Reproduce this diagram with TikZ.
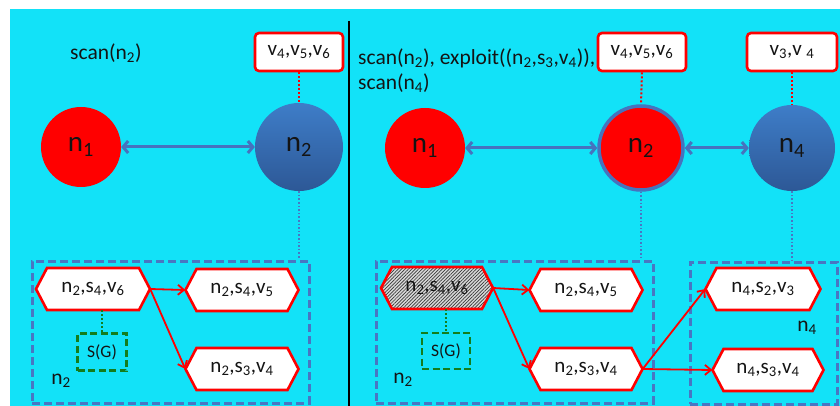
\documentclass[tikz,border=0pt]{standalone}
\usepackage{fontspec}
\setmainfont{Carlito}
\usetikzlibrary{arrows.meta,patterns.meta}
\definecolor{bgcyan}{RGB}{18,226,248}
\definecolor{linkblue}{RGB}{70,115,190}
\definecolor{boxblue}{RGB}{72,118,195}
\definecolor{sgreen}{RGB}{20,125,30}
\definecolor{ballt}{RGB}{62,125,200}
\definecolor{ballb}{RGB}{45,88,150}
\definecolor{txt}{RGB}{20,20,20}
\newcommand\sbs[1]{\textsubscript{#1}}
\newcommand\hexnode[6]{%
  \path[hexedge,#6] ({#2-#4/2},#3) -- ({#2-#4/2+11},{#3-21}) -- ({#2+#4/2-11},{#3-21}) -- ({#2+#4/2},#3) -- ({#2+#4/2-11},{#3+21}) -- ({#2-#4/2+11},{#3+21}) -- cycle;
  \node[hextext,minimum width=#4pt] (#1) at (#2,#3) {#5};}
\tikzset{
  hexedge/.style={draw=red,line width=2.6pt,line join=miter},
  hexwhite/.style={fill=white},
  hexhatch/.style={preaction={fill=gray!30},pattern={Lines[angle=45,distance=2.4pt,line width=0.7pt]},pattern color=gray!45!black},
  hextext/.style={minimum height=42pt,inner sep=0pt,text=txt,font=\fontsize{21}{23}\selectfont},
  vbox/.style={draw=red,line width=2.6pt,rounded corners=4pt,fill=white,minimum height=38pt,inner sep=0pt,text=txt,font=\fontsize{21}{23}\selectfont},
  redball/.style={circle,fill=red,inner sep=0pt,text=txt,font=\fontsize{29}{31}\selectfont},
  blueball/.style={circle,top color=ballt,bottom color=ballb,inner sep=0pt,text=txt,font=\fontsize{29}{31}\selectfont},
  grp/.style={draw=boxblue,line width=3pt,dash pattern=on 8pt off 4pt,inner sep=0pt},
  sgbox/.style={draw=sgreen,line width=2.6pt,dash pattern=on 7pt off 3.5pt,inner sep=0pt,text=txt,font=\fontsize{17.5}{19}\selectfont},
  lbl/.style={inner sep=0pt,text=txt,font=\fontsize{21.5}{23}\selectfont},
  link/.style={linkblue,line width=3pt,{Straight Barb[length=5pt,width=12pt]}-{Straight Barb[length=5pt,width=12pt]}},
  redarr/.style={red,line width=1.8pt,-{Straight Barb[length=6pt,width=10pt]}},
  reddot/.style={red,line width=2pt,dotted},
  bluedot/.style={boxblue,line width=1.6pt,dotted},
  greendot/.style={sgreen,line width=2pt,dotted},
}
\begin{document}
\begin{tikzpicture}[x=1pt,y=-1pt]
\useasboundingbox (0,0) rectangle (840,406);
\fill[white] (0,0) rectangle (840,406);
\fill[bgcyan] (10,9) rectangle (840,406);
\coordinate (sepT) at (349,21);
\coordinate (sepB) at (349,406);
\draw[black,line width=2pt] (sepT) -- (sepB);

% ---------- left panel ----------
\node[lbl,anchor=west] (t1) at (70,53) {scan(n\sbs{2})};
\node[vbox,minimum width=88pt] (vL) at (299,52) {v\sbs{4},v\sbs{5},v\sbs{6}};
\node[redball,minimum size=80pt] (n1L) at (81,147) {n\sbs{1}};
\node[blueball,minimum size=88pt] (n2L) at (299,147) {n\sbs{2}};
\draw[link] (n1L) -- (n2L);
\draw[reddot] (vL.south) -- (n2L.north);
\node[grp,minimum width=277pt,minimum height=142pt] (g1L) at (170.5,332) {};
\draw[bluedot] (n2L.south) -- (n2L.south |- g1L.north);
\hexnode{aL}{93}{289}{114}{n\sbs{2},s\sbs{4},v\sbs{6}}{hexwhite}
\hexnode{bL}{242}{290}{113}{n\sbs{2},s\sbs{4},v\sbs{5}}{hexwhite}
\hexnode{cL}{242}{369}{113}{n\sbs{2},s\sbs{3},v\sbs{4}}{hexwhite}
\node[sgbox,minimum width=49pt,minimum height=37pt] (sgL) at (102,352) {S(G)};
\draw[greendot] (aL.south -| sgL.north) -- (sgL.north);
\node[lbl] (lnL) at (61,381) {n\sbs{2}};
\draw[redarr] (aL.east) -- (bL.west);
\draw[redarr] (aL.east) -- (cL.west);

% ---------- right panel ----------
\node[lbl,anchor=west] (t2) at (358,58) {scan(n\sbs{2}), exploit((n\sbs{2},s\sbs{3},v\sbs{4})),};
\node[lbl,anchor=west] (t3) at (358,83) {scan(n\sbs{4})};
\node[vbox,minimum width=88pt] (vR) at (642,52) {v\sbs{4},v\sbs{5},v\sbs{6}};
\node[vbox,minimum width=90pt] (vR2) at (792,52) {v\sbs{3},v \sbs{4}};
\node[redball,minimum size=80pt] (n1R) at (425,148) {n\sbs{1}};
\node[redball,draw=linkblue,line width=3.5pt,minimum size=84pt] (n2R) at (641,148) {n\sbs{2}};
\node[blueball,minimum size=86pt] (n4R) at (792,148) {n\sbs{4}};
\draw[link] (n1R) -- (n2R);
\draw[link] (n2R) -- (n4R);
\draw[reddot] (vR.south) -- (n2R.north);
\draw[reddot] (vR2.south) -- (n4R.north);
\node[grp,minimum width=277pt,minimum height=142pt] (g1R) at (514.5,332) {};
\node[grp,minimum width=147pt,minimum height=142pt] (g2R) at (763.5,333) {};
\draw[bluedot] (n2R.south) -- (n2R.south |- g1R.north);
\draw[bluedot] (n4R.south) -- (n4R.south |- g2R.north);
\hexnode{aR}{437}{288}{112}{n\sbs{2},s\sbs{4},v\sbs{6}}{hexhatch}
\hexnode{bR}{586}{290}{113}{n\sbs{2},s\sbs{4},v\sbs{5}}{hexwhite}
\hexnode{cR}{586}{369}{113}{n\sbs{2},s\sbs{3},v\sbs{4}}{hexwhite}
\hexnode{dR}{763}{289}{115}{n\sbs{4},s\sbs{2},v\sbs{3}}{hexwhite}
\hexnode{eR}{768}{370}{111}{n\sbs{4},s\sbs{3},v\sbs{4}}{hexwhite}
\node[sgbox,minimum width=48pt,minimum height=36pt] (sgR) at (446,351) {S(G)};
\draw[greendot] (aR.south -| sgR.north) -- (sgR.north);
\node[lbl] (lnR) at (403,380) {n\sbs{2}};
\node[lbl] (lnR4) at (807,328) {n\sbs{4}};
\draw[redarr] (aR.east) -- (bR.west);
\draw[redarr] (aR.east) -- (cR.west);
\draw[redarr] (cR.east) -- (dR.west);
\draw[redarr] (cR.east) -- (eR.west);
\end{tikzpicture}
\end{document}
